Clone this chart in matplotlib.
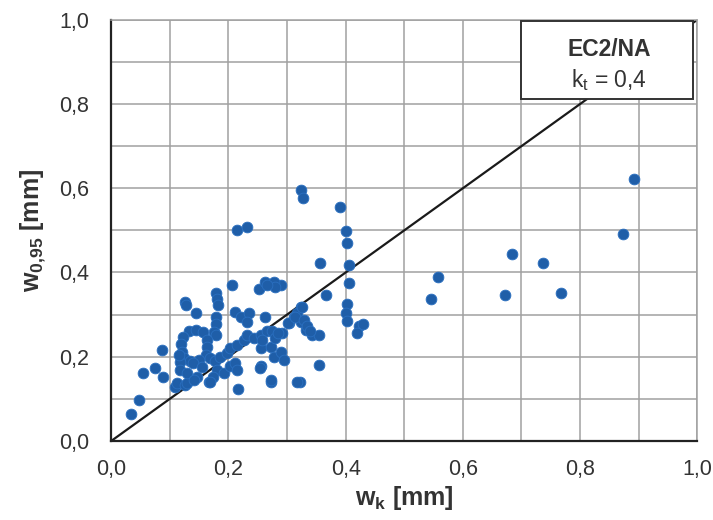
import matplotlib
matplotlib.use("Agg")
import matplotlib.pyplot as plt
import numpy as np

plt.rcParams['font.family'] = ['Liberation Sans', 'DejaVu Sans']
plt.rcParams['mathtext.fontset'] = 'custom'
plt.rcParams['mathtext.rm'] = 'Liberation Sans'
plt.rcParams['mathtext.it'] = 'Liberation Sans'
plt.rcParams['mathtext.bf'] = 'Liberation Sans:bold'

# calculated crack width w_k [mm]
wk = [
    0.545, 0.557, 0.672, 0.683, 0.737, 0.767, 0.874, 0.892,
    0.324, 0.328, 0.390, 0.401, 0.402, 0.357, 0.405, 0.405, 0.366, 0.403, 0.400, 0.402, 0.423, 0.429, 0.419,
    0.323, 0.317, 0.312, 0.303, 0.292, 0.323, 0.332, 0.343, 0.354, 0.289, 0.326,
    0.354, 0.322, 0.273, 0.255,
    0.215, 0.231, 0.206, 0.252, 0.263, 0.277, 0.279, 0.266,
    0.034, 0.048, 0.055, 0.075, 0.089, 0.087, 0.109, 0.112, 0.126, 0.129, 0.166,
    0.126, 0.128, 0.145, 0.179, 0.181, 0.182, 0.178, 0.178, 0.175, 0.178,
    0.212, 0.221, 0.235, 0.232, 0.262,
    0.132, 0.145, 0.157, 0.123, 0.163, 0.119, 0.164, 0.120, 0.162, 0.125, 0.150, 0.135, 0.118, 0.140,
    0.118, 0.129, 0.146, 0.141, 0.115, 0.155,
    0.169, 0.177, 0.186, 0.198, 0.203, 0.215, 0.226, 0.232, 0.243, 0.255, 0.266, 0.275,
    0.181, 0.192, 0.174, 0.203, 0.212, 0.215, 0.169, 0.216,
    0.255, 0.258, 0.272, 0.277, 0.289, 0.295, 0.280, 0.285, 0.302, 0.314, 0.254, 0.272, 0.317,
    0.329, 0.334, 0.340,
]
# measured crack width w_0,95 [mm]
w095 = [
    0.337, 0.389, 0.347, 0.445, 0.422, 0.352, 0.492, 0.623,
    0.596, 0.578, 0.556, 0.499, 0.471, 0.422, 0.417, 0.375, 0.346, 0.325, 0.303, 0.284, 0.272, 0.277, 0.256,
    0.317, 0.303, 0.295, 0.280, 0.256, 0.282, 0.264, 0.252, 0.252, 0.370, 0.319,
    0.181, 0.141, 0.141, 0.177,
    0.501, 0.508, 0.371, 0.360, 0.378, 0.378, 0.365, 0.370,
    0.063, 0.097, 0.161, 0.173, 0.153, 0.216, 0.127, 0.137, 0.133, 0.137, 0.141,
    0.331, 0.323, 0.303, 0.351, 0.337, 0.323, 0.295, 0.278, 0.258, 0.252,
    0.307, 0.295, 0.303, 0.283, 0.295,
    0.262, 0.264, 0.258, 0.248, 0.240, 0.230, 0.222, 0.212, 0.205, 0.196, 0.192, 0.190, 0.188, 0.185,
    0.169, 0.161, 0.153, 0.145, 0.205, 0.175,
    0.197, 0.189, 0.200, 0.208, 0.220, 0.228, 0.240, 0.252, 0.244, 0.252, 0.260, 0.260,
    0.169, 0.161, 0.153, 0.177, 0.185, 0.169, 0.141, 0.124,
    0.220, 0.240, 0.224, 0.200, 0.212, 0.192, 0.244, 0.256, 0.280, 0.295, 0.173, 0.145, 0.141,
    0.287, 0.272, 0.260,
]

ticks = [0.0, 0.2, 0.4, 0.6, 0.8, 1.0]
tick_labels = ["0,0", "0,2", "0,4", "0,6", "0,8", "1,0"]
minor = np.round(np.arange(0.0, 1.01, 0.1), 2)

fig = plt.figure(figsize=(7.13, 5.2), dpi=100)
ax = fig.add_axes([0.156, 0.152, 0.822, 0.810])
ax.set_xlim(0, 1)
ax.set_ylim(0, 1)

for v in minor:
    ax.axvline(v, color="#a0a0a0", lw=1.1, zorder=0)
    ax.axhline(v, color="#a0a0a0", lw=1.1, zorder=0)

# 1:1 reference line
ax.plot([0, 1], [0, 1], color="#1a1a1a", lw=1.6, zorder=2)

ax.scatter(wk, w095, s=60, color="#1f5ea8", edgecolors="#2a6fc0",
           linewidths=0.6, zorder=3)

ax.set_xticks(ticks)
ax.set_xticklabels(tick_labels)
ax.set_yticks(ticks)
ax.set_yticklabels(tick_labels)
ax.tick_params(axis="both", length=0, labelsize=15.5, colors="#333333")
ax.tick_params(axis="y", pad=16)
ax.tick_params(axis="x", pad=13)

for s in ["left", "bottom"]:
    ax.spines[s].set_color("#222222")
    ax.spines[s].set_linewidth(1.6)
for s in ["top", "right"]:
    ax.spines[s].set_color("#a0a0a0")
    ax.spines[s].set_linewidth(1.1)

ax.set_xlabel(r"$\mathbf{w_k}$ [mm]", fontsize=18, fontweight="bold",
              color="#333333", labelpad=3)
ax.set_ylabel(r"$\mathbf{w_{0{,}95}}$ [mm]", fontsize=18, fontweight="bold",
              color="#333333", labelpad=8)

# annotation box
box = plt.Rectangle((0.70, 0.812), 0.293, 0.186, transform=ax.transAxes,
                    facecolor="white", edgecolor="#333333", lw=1.4, zorder=5)
ax.add_patch(box)
ax.text(0.85, 0.929, "EC2/NA", transform=ax.transAxes, ha="center",
        va="center", fontsize=16.5, fontweight="bold", color="#333333", zorder=6)
ax.text(0.85, 0.857, r"k$_\mathrm{t}$ = 0,4", transform=ax.transAxes,
        ha="center", va="center", fontsize=16.5, color="#333333", zorder=6)

fig.savefig("out.png", dpi=100, facecolor="white")
